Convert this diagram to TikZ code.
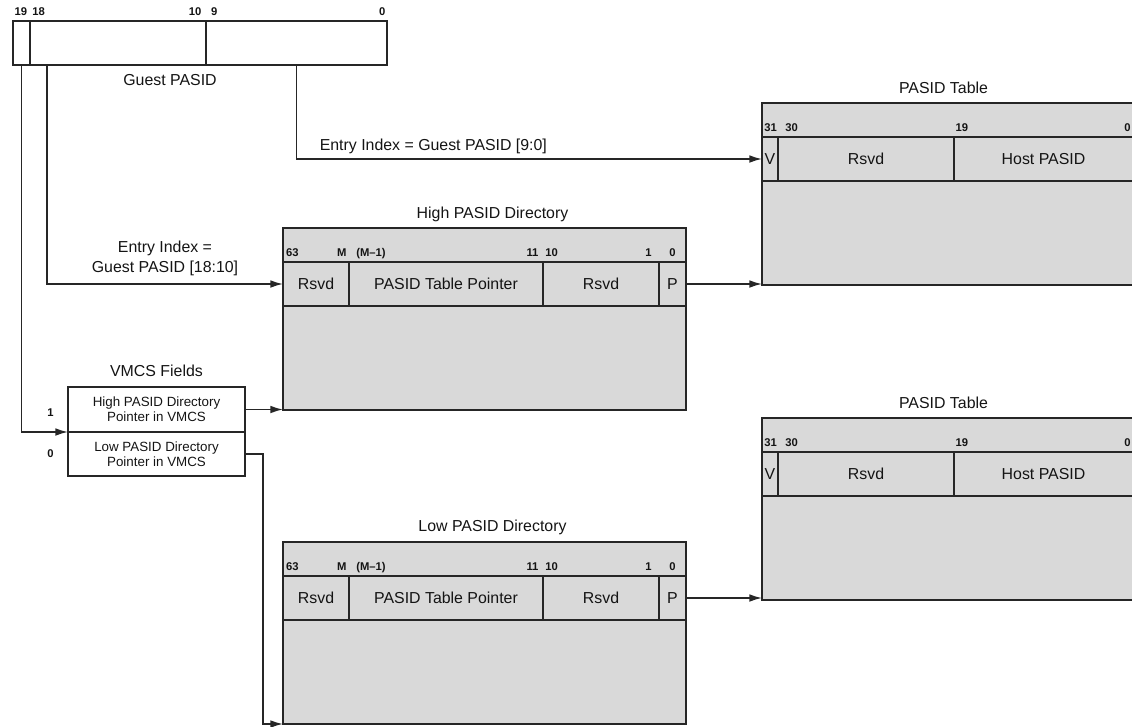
\documentclass[tikz,border=0pt]{standalone}
\usepackage{fontspec}
\setmainfont{Liberation Sans}
\usepackage{tkz-euclide}
\usetikzlibrary{arrows.meta,calc,positioning}
\definecolor{BoxClr}{rgb}{0.85,0.85,0.85}
\definecolor{EdgeClr}{rgb}{0.15,0.15,0.15}
\definecolor{TextClr}{rgb}{0.08,0.08,0.08}
\newcommand{\PX}[1]{#1*0.025cm}

\begin{document}
\begin{tikzpicture}[x=0.025cm,y=-0.025cm,
  fieldbox/.style={draw=EdgeClr,line width=1.3pt,inner sep=0pt,outer sep=0pt,
    minimum height=\PX{44},font=\fontsize{11.3}{13}\selectfont,text=TextClr},
  tablebox/.style={draw=EdgeClr,line width=1.3pt,fill=BoxClr,inner sep=0pt,
    outer sep=0pt,minimum height=\PX{182}},
  vmcsbox/.style={fieldbox,minimum width=\PX{177},align=center,
    font=\fontsize{9.5}{10.7}\selectfont},
  labeltext/.style={font=\fontsize{11.3}{14.2}\selectfont,text=TextClr,align=center},
  headtext/.style={labeltext,text depth=0pt},
  bittext/.style={font=\fontsize{8}{9}\selectfont\bfseries,text=TextClr,inner sep=1pt,
    text depth=0pt},
  pointer/.style={draw=EdgeClr,line width=1.1pt,-{Latex[length=9pt,width=5.5pt]}}]
\useasboundingbox (0,0) rectangle (1132,726);
\clip (0,0) rectangle (1132,726);

\tkzDefPoints{13/21/GP,47/65/GB,68/387/VM,263/454/LB,283/228/HD,283/262/HR,%
  283/542/LD,283/576/LR,762/103/TA,762/137/TAR,762/418/TB,762/452/TBR}

\node[tablebox,minimum width=\PX{403},anchor=north west] (hiDir) at (HD) {};
\node[tablebox,minimum width=\PX{403},anchor=north west] (loDir) at (LD) {};
\node[tablebox,minimum width=\PX{371},anchor=north west] (pasA) at (TA) {};
\node[tablebox,minimum width=\PX{371},anchor=north west] (pasB) at (TB) {};

\node[headtext,above=3.5pt of hiDir,xshift=\PX{8}] (hiTtl) {High PASID Directory};
\node[headtext,above=4pt of loDir,xshift=\PX{8}] (loTtl) {Low PASID Directory};
\node[headtext,above=3.5pt of pasA,xshift=-\PX{4}] (pasATtl) {PASID Table};
\node[headtext,above=3.5pt of pasB,xshift=-\PX{4}] (pasBTtl) {PASID Table};

\node[fieldbox,minimum width=\PX{17},anchor=north west] (g19) at (GP) {};
\node[fieldbox,minimum width=\PX{176},right=0pt of g19] (g18) {};
\node[fieldbox,minimum width=\PX{181},right=0pt of g18] (g9) {};
\node[headtext,anchor=base] (gTtl) at (170,85) {Guest PASID};
\node[bittext,above right=3pt and 0pt of g19.north west] (g19b) {19};
\node[bittext,above right=3pt and 0.5pt of g18.north west] (g18b) {18};
\node[bittext,above left=3pt and 2pt of g18.north east] (g10b) {10};
\node[bittext,above right=3pt and 2.5pt of g9.north west] (g9b) {9};
\node[bittext,above left=3pt and 0pt of g9.north east] (g0b) {0};

\node[fieldbox,minimum width=\PX{66},anchor=north west] (hiRsvdA) at (HR) {Rsvd};
\node[fieldbox,minimum width=\PX{194},right=0pt of hiRsvdA] (hiPtr) {PASID Table Pointer};
\node[fieldbox,minimum width=\PX{116},right=0pt of hiPtr] (hiRsvdB) {Rsvd};
\node[fieldbox,minimum width=\PX{27},right=0pt of hiRsvdB] (hiP) {P};
\node[bittext,above right=3pt and 1pt of hiRsvdA.north west] (hi63) {63};
\node[bittext,above left=3pt and 0.5pt of hiRsvdA.north east] (hiM) {M};
\node[bittext,above right=3pt and 4pt of hiPtr.north west] (hiM1) {(M--1)};
\node[bittext,above left=3pt and 2pt of hiPtr.north east] (hi11) {11};
\node[bittext,above right=3pt and 0.5pt of hiRsvdB.north west] (hi10) {10};
\node[bittext,above left=3pt and 4pt of hiRsvdB.north east] (hi1) {1};
\node[bittext,above=3pt of hiP.north] (hi0) {0};

\node[fieldbox,minimum width=\PX{66},anchor=north west] (loRsvdA) at (LR) {Rsvd};
\node[fieldbox,minimum width=\PX{194},right=0pt of loRsvdA] (loPtr) {PASID Table Pointer};
\node[fieldbox,minimum width=\PX{116},right=0pt of loPtr] (loRsvdB) {Rsvd};
\node[fieldbox,minimum width=\PX{27},right=0pt of loRsvdB] (loP) {P};
\node[bittext,above right=3pt and 1pt of loRsvdA.north west] (lo63) {63};
\node[bittext,above left=3pt and 0.5pt of loRsvdA.north east] (loM) {M};
\node[bittext,above right=3pt and 4pt of loPtr.north west] (loM1) {(M--1)};
\node[bittext,above left=3pt and 2pt of loPtr.north east] (lo11) {11};
\node[bittext,above right=3pt and 0.5pt of loRsvdB.north west] (lo10) {10};
\node[bittext,above left=3pt and 4pt of loRsvdB.north east] (lo1) {1};
\node[bittext,above=3pt of loP.north] (lo0) {0};

\node[fieldbox,minimum width=\PX{16},anchor=north west] (pasAV) at (TAR) {V};
\node[fieldbox,minimum width=\PX{176},right=0pt of pasAV] (pasARsvd) {Rsvd};
\node[fieldbox,minimum width=\PX{179},right=0pt of pasARsvd] (pasAHost) {Host PASID};
\node[bittext,above right=3pt and 0.5pt of pasAV.north west] (pasA31) {31};
\node[bittext,above right=3pt and 4pt of pasARsvd.north west] (pasA30) {30};
\node[bittext,above right=3pt and 0pt of pasAHost.north west] (pasA19) {19};
\node[bittext,above left=3pt and 0.5pt of pasAHost.north east] (pasA0) {0};

\node[fieldbox,minimum width=\PX{16},anchor=north west] (pasBV) at (TBR) {V};
\node[fieldbox,minimum width=\PX{176},right=0pt of pasBV] (pasBRsvd) {Rsvd};
\node[fieldbox,minimum width=\PX{179},right=0pt of pasBRsvd] (pasBHost) {Host PASID};
\node[bittext,above right=3pt and 0.5pt of pasBV.north west] (pasB31) {31};
\node[bittext,above right=3pt and 4pt of pasBRsvd.north west] (pasB30) {30};
\node[bittext,above right=3pt and 0pt of pasBHost.north west] (pasB19) {19};
\node[bittext,above left=3pt and 0.5pt of pasBHost.north east] (pasB0) {0};

\node[vmcsbox,minimum height=\PX{45},anchor=north west] (vHigh) at (VM)
  {High PASID Directory\\Pointer in VMCS};
\node[vmcsbox,below=0pt of vHigh] (vLow) {Low PASID Directory\\Pointer in VMCS};
\node[headtext,above=4pt of vHigh] (vTtl) {VMCS Fields};
\node[bittext,left=9pt of vHigh.west,yshift=-2pt] (v1) {1};
\node[bittext,left=9pt of vLow.west] (v0) {0};

\draw[pointer] (g9.south) |- node[labeltext,pos=0.647,above] (idx9)
  {Entry Index = Guest PASID [9:0]} (pasAV.west);
\draw[pointer] (GB) |- node[labeltext,pos=0.75,above=2pt] (idx18)
  {Entry Index =\\Guest PASID [18:10]} (hiRsvdA.west);
\draw[pointer] (g19.south) |- (vHigh.south west);
\draw[pointer] (vHigh.east) -- (vHigh.east -| hiDir.west);
\draw[pointer] (vLow.east) -- (LB) |- (loDir.south west);
\draw[pointer] (hiP.east) -- (hiP.east -| pasA.west);
\draw[pointer] (loP.east) -- (loP.east -| pasB.west);

\end{tikzpicture}
\end{document}
